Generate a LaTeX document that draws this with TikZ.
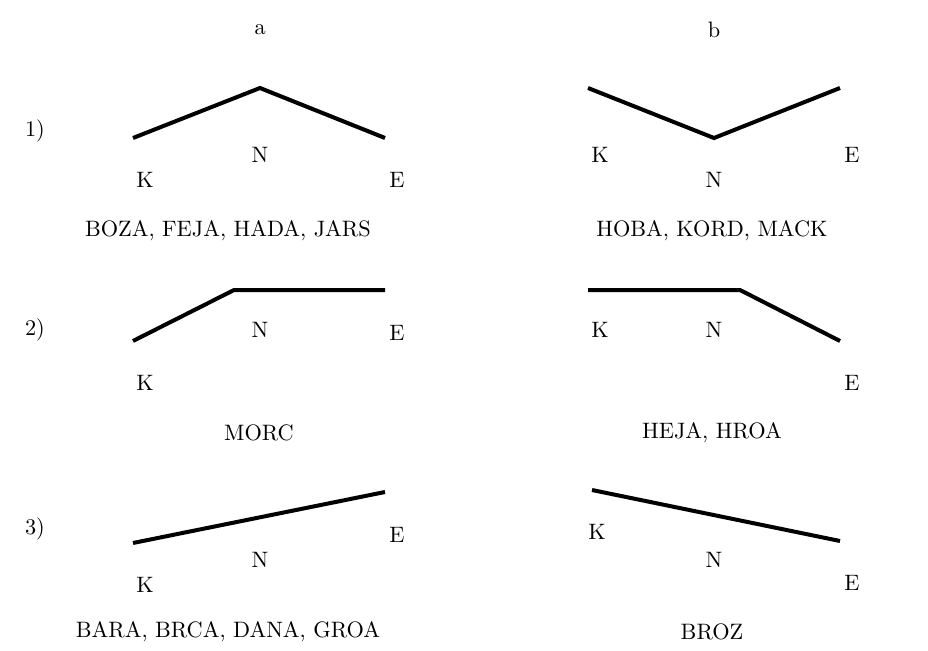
\documentclass[tikz,border=0pt]{standalone}
\font\bigrm=cmr10 at 22.3pt
\begin{document}
\begin{tikzpicture}[x=1pt,y=-1pt,
  lbl/.style={font=\bigrm, inner sep=0pt, anchor=center},
  curve/.style={line width=4pt, line join=miter}]
\useasboundingbox (0,0) rectangle (928,650);
% column headers
\node[lbl] (ha) at (260,30) {a};
\node[lbl] (hb) at (714,30) {b};
% row numbers
\node[lbl] (r1) at (35,131) {1)};
\node[lbl] (r2) at (35,330) {2)};
\node[lbl] (r3) at (35,529) {3)};
% row 1a
\coordinate (p1) at (133,138); \coordinate (p2) at (260,88); \coordinate (p3) at (385,138);
\draw[curve] (p1) -- (p2) -- (p3);
\node[lbl] (k1a) at (145,180) {K};
\node[lbl] (n1a) at (260,155) {N};
\node[lbl] (e1a) at (397,180) {E};
\node[lbl] (c1a) at (228,231) {BOZA, FEJA, HADA, JARS};
% row 1b
\coordinate (q1) at (588,88); \coordinate (q2) at (714,138); \coordinate (q3) at (840,88);
\draw[curve] (q1) -- (q2) -- (q3);
\node[lbl] (k1b) at (600,155) {K};
\node[lbl] (n1b) at (714,180) {N};
\node[lbl] (e1b) at (852,155) {E};
\node[lbl] (c1b) at (712,231) {HOBA, KORD, MACK};
% row 2a
\coordinate (s1) at (133,341); \coordinate (s2) at (234,290); \coordinate (s3) at (385,290);
\draw[curve] (s1) -- (s2) -- (s3);
\node[lbl] (k2a) at (145,383) {K};
\node[lbl] (n2a) at (260,330) {N};
\node[lbl] (e2a) at (397,333) {E};
\node[lbl] (c2a) at (259,433) {MORC};
% row 2b
\coordinate (t1) at (588,290); \coordinate (t2) at (740,290); \coordinate (t3) at (840,341);
\draw[curve] (t1) -- (t2) -- (t3);
\node[lbl] (k2b) at (600,330) {K};
\node[lbl] (n2b) at (714,330) {N};
\node[lbl] (e2b) at (852,383) {E};
\node[lbl] (c2b) at (712,433) {HEJA, HROA};
% row 3a
\coordinate (u1) at (133,543); \coordinate (u2) at (385,492);
\draw[curve] (u1) -- (u2);
\node[lbl] (k3a) at (145,585) {K};
\node[lbl] (n3a) at (260,560) {N};
\node[lbl] (e3a) at (397,535) {E};
\node[lbl] (c3a) at (228,632) {BARA, BRCA, DANA, GROA};
% row 3b
\coordinate (v1) at (592,490); \coordinate (v2) at (840,541);
\draw[curve] (v1) -- (v2);
\node[lbl] (k3b) at (597,532) {K};
\node[lbl] (n3b) at (714,560) {N};
\node[lbl] (e3b) at (852,583) {E};
\node[lbl] (c3b) at (712,632) {BROZ};
\end{tikzpicture}
\end{document}
